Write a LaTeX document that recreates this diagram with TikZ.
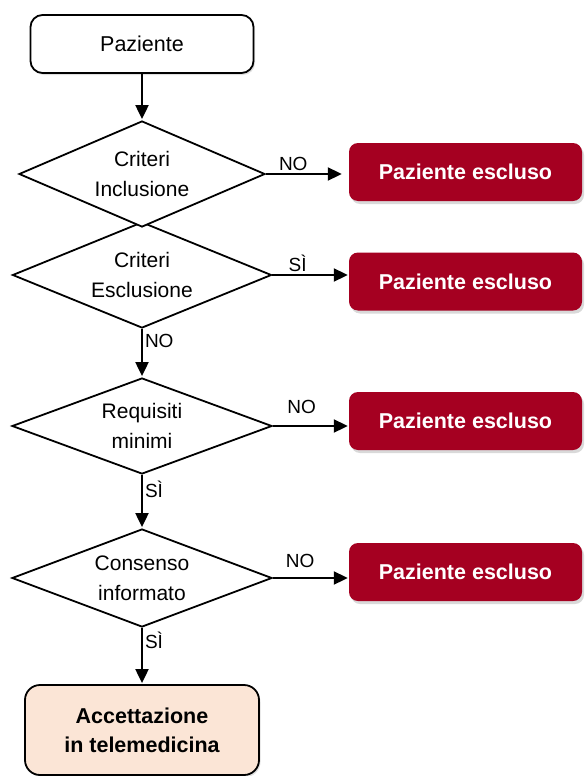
\documentclass[tikz,border=0pt]{standalone}
\usepackage{fontspec}
\setmainfont{Liberation Sans}
\usetikzlibrary{shapes.geometric,arrows.meta,shadows}
\definecolor{escred}{RGB}{165,0,33}
\definecolor{accpeach}{RGB}{251,229,214}
\begin{document}
\begin{tikzpicture}[x=1pt,y=-1pt]
        \tikzstyle{decision}=[draw,line width=1.8pt,diamond,aspect=2.4,inner sep=0pt,fill=white,align=center,font=\fontsize{21}{30}\selectfont]
        \tikzstyle{startbox}=[draw,line width=1.8pt,rounded corners=12pt,fill=white,align=center,font=\fontsize{21.5}{30}\selectfont,drop shadow={opacity=0.25,shadow xshift=1.5pt,shadow yshift=-2pt}]
        \tikzstyle{endbox}=[draw,line width=1.8pt,rounded corners=15pt,fill=accpeach,align=center,font=\bfseries\fontsize{21.5}{29}\selectfont,minimum width=234pt,minimum height=90pt,drop shadow={opacity=0.25,shadow xshift=1.5pt,shadow yshift=-2pt}]
        \tikzstyle{excluded}=[rounded corners=9pt,fill=escred,text=white,font=\bfseries\fontsize{21.5}{25}\selectfont,minimum width=233pt,minimum height=58pt,drop shadow={opacity=0.3,shadow xshift=2pt,shadow yshift=-3pt}]
        \tikzstyle{arrow}=[line width=2pt,-{Triangle[length=14pt,width=13pt]},shorten >=1pt]
        \tikzstyle{answer}=[font=\fontsize{19}{22}\selectfont,inner sep=2pt]

        \useasboundingbox (0,0) rectangle (584,776);

        \draw (142,44) node[startbox,minimum width=223pt,minimum height=58pt] (start) {Paziente};
        \draw (142,275) node[decision,minimum width=259pt,minimum height=106pt] (d2) {Criteri\\Esclusione};
        \draw (142,174) node[decision,minimum width=246pt,minimum height=106pt] (d1) {Criteri\\Inclusione};
        \draw (142,426) node[decision,minimum width=260pt,minimum height=96pt] (d3) {Requisiti\\minimi};
        \draw (142,578) node[decision,minimum width=260pt,minimum height=98pt] (d4) {Consenso\\informato};
        \draw (465.5,172) node[excluded] (e1) {Paziente escluso};
        \draw (465.5,281.5) node[excluded] (e2) {Paziente escluso};
        \draw (465.5,421) node[excluded] (e3) {Paziente escluso};
        \draw (465.5,572) node[excluded] (e4) {Paziente escluso};
        \draw (142,730) node[endbox] (acc) {Accettazione\\in telemedicina};

        \draw[arrow] (start.south) -- (d1.north);
        \draw[arrow,shorten >=7pt] (d1.east) -- (d1.east -| e1.west) node[answer,pos=0.33,above] {NO};
        \draw[arrow] (d2.east) -- (d2.east -| e2.west) node[answer,pos=0.33,above] {SÌ};
        \draw[arrow] (d3.east) -- (d3.east -| e3.west) node[answer,pos=0.38,above=9pt] {NO};
        \draw[arrow] (d4.east) -- (d4.east -| e4.west) node[answer,pos=0.36,above=7pt] {NO};
        \draw[arrow] (d2.south) -- (d3.north) node[answer,pos=0.25,right] {NO};
        \draw[arrow] (d3.south) -- (d4.north) node[answer,pos=0.27,right] {SÌ};
        \draw[arrow] (d4.south) -- (acc.north) node[answer,pos=0.22,right] {SÌ};

\end{tikzpicture}
\end{document}
